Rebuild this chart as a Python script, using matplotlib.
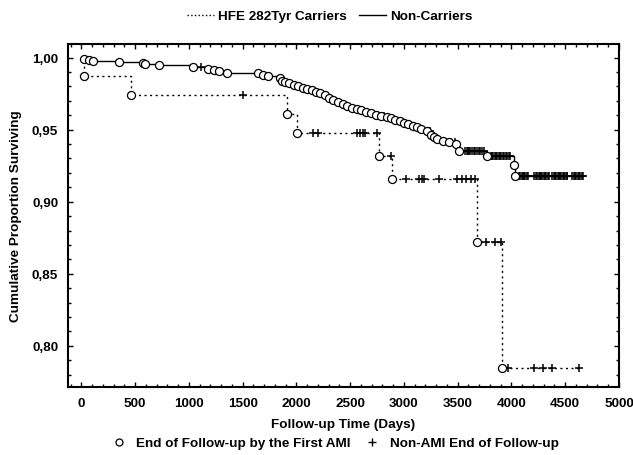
import numpy as np
import matplotlib
matplotlib.use("Agg")
import matplotlib.pyplot as plt
from matplotlib.lines import Line2D
from matplotlib.ticker import MultipleLocator, FuncFormatter

plt.rcParams["font.family"] = ["Liberation Sans", "DejaVu Sans"]
plt.rcParams["font.weight"] = "bold"
plt.rcParams["axes.labelweight"] = "bold"
plt.rcParams["font.size"] = 9.7

DOTTED = (0, (1.5, 2.5))

# HFE 282Tyr carriers: first-AMI events and non-AMI censoring (days)
carrier_event_days = [28, 462, 1912, 2005, 2770, 2888, 3683, 3910]
carrier_event_surv = [0.987, 0.974, 0.961, 0.948, 0.932, 0.916, 0.872, 0.785]
carrier_censor_days = [1500, 2150, 2200, 2560, 2590, 2615, 2640, 2750, 2878,
                       3020, 3140, 3170, 3190, 3330, 3495, 3540, 3580, 3620,
                       3665, 3760, 3850, 3900, 3965, 4210, 4290, 4380, 4630]

# Non-carriers
noncarrier_event_days = [28, 68, 105, 347, 570, 595, 725, 1040, 1175, 1230,
                         1280, 1350, 1640, 1685, 1731, 1845, 1865, 1890, 1935,
                         1980, 2010, 2060, 2100, 2140, 2180, 2220, 2265, 2300,
                         2340, 2390, 2430, 2470, 2520, 2560, 2600, 2650, 2695,
                         2740, 2790, 2840, 2880, 2920, 2960, 3000, 3040, 3080,
                         3120, 3160, 3210, 3250, 3275, 3310, 3360, 3420, 3480,
                         3510, 3776, 4020, 4035]
noncarrier_event_surv = [0.9990, 0.9983, 0.9977, 0.9972, 0.9964, 0.9957,
                         0.9950, 0.9934, 0.9923, 0.9914, 0.9905, 0.9896,
                         0.9890, 0.9880, 0.9870, 0.9858, 0.9840, 0.9832,
                         0.9825, 0.9812, 0.9800, 0.9790, 0.9781, 0.9772,
                         0.9763, 0.9754, 0.9740, 0.9722, 0.9705, 0.9690,
                         0.9678, 0.9666, 0.9652, 0.9642, 0.9634, 0.9622,
                         0.9612, 0.9604, 0.9594, 0.9586, 0.9578, 0.9570,
                         0.9560, 0.9548, 0.9538, 0.9528, 0.9515, 0.9503,
                         0.9488, 0.9462, 0.9448, 0.9436, 0.9422, 0.9412,
                         0.9398, 0.9350, 0.9314, 0.9255, 0.9180]
noncarrier_censor_days = [1110, 2700, 2760, 2810, 3220, 3245, 3290, 3440, 3470,
                          3570, 3582, 3594, 3606, 3618, 3630, 3650, 3665, 3680,
                          3695, 3710, 3725, 3740,
                          3805, 3818, 3830, 3842, 3855, 3868, 3880, 3893, 3905,
                          3918, 3930, 3945, 3960, 3975, 3990,
                          4070, 4082, 4094, 4106, 4118, 4130, 4142, 4155,
                          4210, 4228, 4240, 4252, 4264, 4276, 4288, 4300, 4312,
                          4325, 4338, 4350,
                          4380, 4392, 4404, 4416, 4428, 4440, 4452, 4464, 4476,
                          4488, 4500, 4512, 4520,
                          4565, 4578, 4590, 4602, 4615, 4628, 4640, 4652, 4665]


def surv_at(days, event_days, event_surv):
    idx = np.searchsorted(event_days, days, side="right") - 1
    s = np.array(event_surv)[np.clip(idx, 0, None)]
    return np.where(idx < 0, 1.0, s)


def draw_group(ax, event_days, event_surv, censor_days, ls):
    end = max(max(censor_days), max(event_days))
    t = [0] + list(event_days) + [end]
    s = [1.0] + list(event_surv) + [event_surv[-1]]
    ax.step(t, s, where="post", color="black", lw=1.0, ls=ls, zorder=2)
    ax.plot(censor_days, surv_at(censor_days, event_days, event_surv),
            ls="none", marker="+", ms=6, mew=1.1, color="black", zorder=3)
    ax.plot(event_days, event_surv, ls="none", marker="o", ms=5.8, mew=0.9,
            mfc="white", mec="black", zorder=4)


fig = plt.figure(figsize=(6.33, 4.56), dpi=100)
ax = fig.add_axes([68 / 633, 1 - 388 / 456, (619 - 68) / 633, (388 - 45) / 456])

draw_group(ax, carrier_event_days, carrier_event_surv, carrier_censor_days, DOTTED)
draw_group(ax, noncarrier_event_days, noncarrier_event_surv,
           noncarrier_censor_days, "-")

ax.set_xlim(-125, 5000)
ax.set_ylim(0.7715, 1.0094)
ax.xaxis.set_major_locator(MultipleLocator(500))
ax.xaxis.set_minor_locator(MultipleLocator(100))
ax.yaxis.set_major_locator(MultipleLocator(0.05))
ax.yaxis.set_minor_locator(MultipleLocator(0.01))
ax.yaxis.set_major_formatter(FuncFormatter(lambda v, p: f"{v:.2f}".replace(".", ",")))
ax.tick_params(which="both", direction="in", top=True, right=True, width=1.0)
ax.tick_params(which="major", length=3.5, pad=7)
ax.tick_params(which="minor", length=2.5)
for sp in ax.spines.values():
    sp.set_linewidth(1.5)

ax.set_xlabel("Follow-up Time (Days)", labelpad=7)
ax.set_ylabel("Cumulative Proportion Surviving", labelpad=7)

top_handles = [Line2D([], [], color="black", ls=":", lw=1.0),
               Line2D([], [], color="black", ls="-", lw=1.0)]
fig.legend(top_handles, ["HFE 282Tyr Carriers", "Non-Carriers"], ncol=2,
           loc="center", bbox_to_anchor=(0.521, 1 - 17 / 456), frameon=False,
           handlelength=2.0, handletextpad=0.3, columnspacing=0.9)

bottom_handles = [Line2D([], [], ls="none", marker="o", ms=5, mfc="white",
                         mec="black", mew=0.9),
                  Line2D([], [], ls="none", marker="+", ms=6, mew=1.0,
                         color="black")]
fig.legend(bottom_handles, ["End of Follow-up by the First AMI",
                            "Non-AMI End of Follow-up"], ncol=2,
           loc="center", bbox_to_anchor=(0.530, 1 - 444 / 456), frameon=False,
           handlelength=1.0, handletextpad=0.8, columnspacing=1.1)

fig.savefig("out.png", dpi=100)
